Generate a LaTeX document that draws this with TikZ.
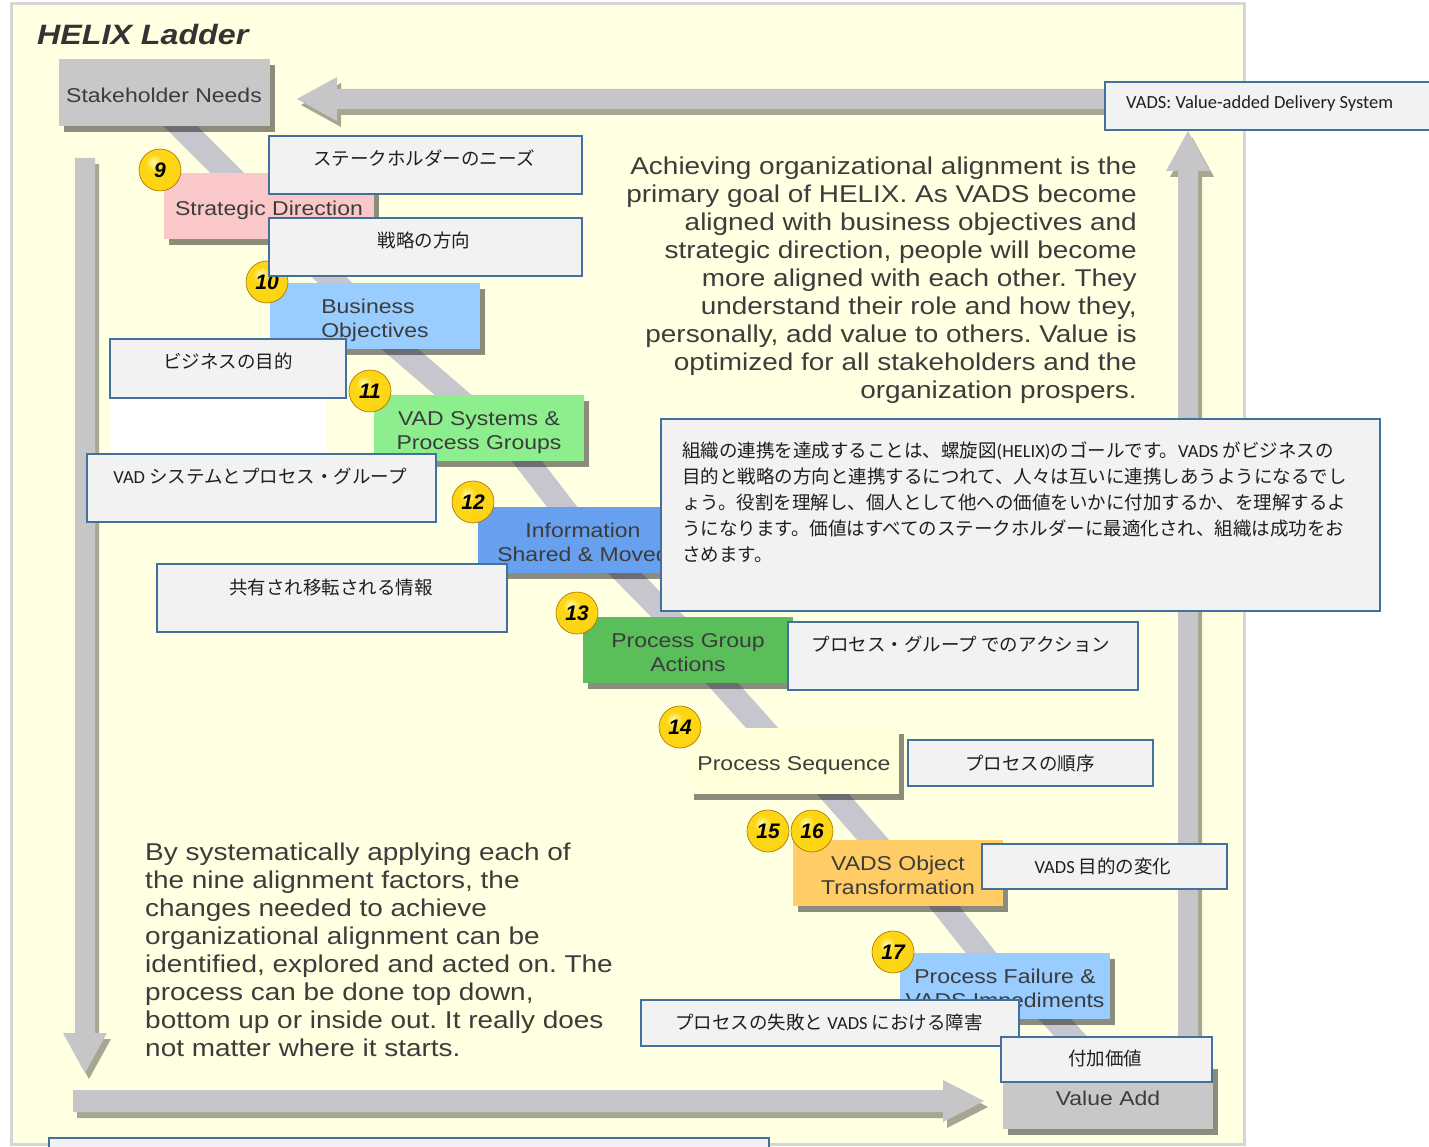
\documentclass[tikz,border=0pt]{standalone}
\usepackage{fontspec}
\setmainfont{Liberation Sans}
\newfontfamily\jpf{Noto Sans CJK JP}
\newfontfamily\latf{Carlito}
\usetikzlibrary{shadows}
\pgfdeclarelayer{back}
\pgfdeclarelayer{mid}
\pgfsetlayers{back,mid,main}
\definecolor{panelbg}{RGB}{255,255,226}
\definecolor{panelbd}{RGB}{214,214,214}
\definecolor{arrowgray}{RGB}{198,198,200}
\definecolor{stripegray}{RGB}{198,198,206}
\definecolor{boxgray}{RGB}{200,200,200}
\definecolor{sdpink}{RGB}{250,200,200}
\definecolor{lblue}{RGB}{153,204,255}
\definecolor{lgreen}{RGB}{140,238,140}
\definecolor{mblue}{RGB}{102,160,238}
\definecolor{mgreen}{RGB}{90,190,90}
\definecolor{cream}{RGB}{255,255,218}
\definecolor{lorange}{RGB}{255,204,102}
\definecolor{jpfill}{RGB}{242,242,242}
\definecolor{jpline}{RGB}{65,113,156}
\definecolor{txtgray}{RGB}{60,60,60}
\definecolor{ballhi}{RGB}{255,250,170}
\definecolor{ballc}{RGB}{252,214,20}
\definecolor{ballmid}{RGB}{240,176,0}
\definecolor{ballrim}{RGB}{170,110,0}
\pgfdeclareradialshading{goldball}{\pgfpoint{-8bp}{10bp}}{color(0bp)=(ballhi); color(10bp)=(ballc); color(28bp)=(ballc); color(42bp)=(ballmid); color(54bp)=(ballrim); color(70bp)=(ballrim)}
\newcommand\stx[1]{\raisebox{-9.5pt}[0pt][0pt]{\scalebox{1.15}[1]{\begin{tabular}{@{}c@{}}#1\end{tabular}}}}
\newcommand\stxl[1]{\raisebox{-9.5pt}[0pt][0pt]{\scalebox{1.15}[1]{\begin{tabular}{@{}l@{}}#1\end{tabular}}}}
\frenchspacing
\begin{document}
\begin{tikzpicture}[x=1pt,y=-1pt,
  ladder/.style={rectangle, minimum width=210pt, minimum height=66pt, inner sep=0pt,
    text=txtgray, font=\fontsize{20}{24}\selectfont,
    drop shadow={shadow xshift=5pt, shadow yshift=-6pt, fill=black, opacity=0.45}},
  ballnode/.style={circle, minimum size=42pt, inner sep=0pt, shade, shading=goldball,
    draw=ballrim, line width=0.6pt, font=\fontsize{21}{21}\selectfont\bfseries\itshape},
  para/.style={inner sep=0pt, text=txtgray, font=\fontsize{24.3}{28}\selectfont, xscale=1.15},
  jpbox/.style={rectangle, draw=jpline, line width=2pt, fill=jpfill, inner sep=0pt, anchor=north west},
  jptxt/.style={inner sep=0pt, text=black!88, font=\jpf\fontsize{18.5}{26}\selectfont},
  bigarrow/.style={fill=arrowgray},
  arrowshadow/.style={fill=black, opacity=0.35},
  stripe/.style={draw=stripegray, line width=24pt, shorten <=-20pt, shorten >=-20pt},
  panel/.style={fill=panelbg, draw=panelbd, line width=3pt}
]
\useasboundingbox (0,0) rectangle (1429,1147);
\clip (0,0) rectangle (1429,1147);
\begin{pgfonlayer}{back}
  \fill[white] (0,0) rectangle (1429,1147);
  \draw[panel] (11,4) rectangle (1244,1144);
  \fill[white] (110,397) rectangle (326,454);
\end{pgfonlayer}

% big loop arrows: shadows
\begin{scope}[shift={(4,6)}]
  \fill[arrowshadow] (1195,89) -- (337,89) -- (337,77) -- (297,99) -- (337,121) -- (337,109) -- (1195,109) -- cycle;
  \fill[arrowshadow] (1178,1080) -- (1178,171) -- (1166,171) -- (1188,131) -- (1210,171) -- (1198,171) -- (1198,1080) -- cycle;
  \fill[arrowshadow] (75,158) -- (95,158) -- (95,1033) -- (107,1033) -- (85,1073) -- (63,1033) -- (75,1033) -- cycle;
  \fill[arrowshadow] (73,1090) -- (943,1090) -- (943,1080) -- (984,1101) -- (943,1122) -- (943,1112) -- (73,1112) -- cycle;
\end{scope}
\fill[bigarrow] (1195,89) -- (337,89) -- (337,77) -- (297,99) -- (337,121) -- (337,109) -- (1195,109) -- cycle;
\fill[bigarrow] (1178,1080) -- (1178,171) -- (1166,171) -- (1188,131) -- (1210,171) -- (1198,171) -- (1198,1080) -- cycle;
\fill[bigarrow] (75,158) -- (95,158) -- (95,1033) -- (107,1033) -- (85,1073) -- (63,1033) -- (75,1033) -- cycle;
\fill[bigarrow] (73,1090) -- (943,1090) -- (943,1080) -- (984,1101) -- (943,1122) -- (943,1112) -- (73,1112) -- cycle;

% title
\node[anchor=base west, inner sep=0pt, font=\fontsize{28}{28}\selectfont\bfseries\itshape, text=black!80, xscale=1.15] (title) at (37,45) {HELIX Ladder};

% ladder boxes
\node[ladder, fill=boxgray, minimum width=211pt, minimum height=67pt] (sn) at (164,93) {\stx{Stakeholder Needs}};
\node[ladder, fill=sdpink] (sd) at (269,206) {\stx{Strategic Direction}};
\node[ladder, fill=lblue] (bo) at (375,316) {\stxl{Business\\Objectives}};
\node[ladder, fill=lgreen] (vad) at (479,428) {\stx{VAD Systems \&\\Process Groups}};
\node[ladder, fill=mblue] (info) at (583,540) {\stx{Information\\Shared \& Moved}};
\node[ladder, fill=mgreen] (pg) at (688,650) {\stx{Process Group\\Actions}};
\node[ladder, fill=cream] (ps) at (794,761) {\stx{Process Sequence}};
\node[ladder, fill=lorange] (vo) at (898,873) {\stx{VADS Object\\Transformation}};
\node[ladder, fill=lblue] (pf) at (1005,986) {\stx{Process Failure \&\\VADS Impediments}};
\node[ladder, fill=boxgray] (va) at (1108,1096) {\stx{Value Add}};

% ladder backbone
\begin{pgfonlayer}{mid}
  \draw[stripe] ([xshift=17pt]sn.south) -- ([xshift=-42pt]sd.north);
  \draw[stripe] ([xshift=21pt]sd.south) -- ([xshift=-40pt]bo.north);
  \draw[stripe] ([xshift=25pt]bo.south) -- ([xshift=-26pt]vad.north);
  \draw[stripe] ([xshift=48pt]vad.south) -- ([xshift=-21pt]info.north);
  \draw[stripe] ([xshift=42pt]info.south) -- ([xshift=-20pt]pg.north);
  \draw[stripe] ([xshift=34pt]pg.south) -- ([xshift=-32pt]ps.north);
  \draw[stripe] ([xshift=39pt]ps.south) -- ([xshift=-25pt]vo.north);
  \draw[stripe] ([xshift=46pt]vo.south) -- ([xshift=-24pt]pf.north);
  \draw[stripe] ([xshift=50pt]pf.south) -- ([xshift=-13pt]va.north);
\end{pgfonlayer}

% numbered balls
\node[ballnode] (n9) at (160,170) {9};
\node[ballnode] (n10) at (267,282) {10};
\node[ballnode] (n11) at (370,391) {11};
\node[ballnode] (n12) at (473,502) {12};
\node[ballnode] (n13) at (577,613) {13};
\node[ballnode] (n14) at (680,727) {14};
\node[ballnode] (n15) at (768,831) {15};
\node[ballnode] (n16) at (812,831) {16};
\node[ballnode] (n17) at (893,952) {17};

% English paragraphs
\node[para, anchor=north east, align=right] (ptop) at (1137,157) {Achieving organizational alignment is the\\
primary goal of HELIX. As VADS become\\
aligned with business objectives and\\
strategic direction, people will become\\
more aligned with each other. They\\
understand their role and how they,\\
personally, add value to others. Value is\\
optimized for all stakeholders and the\\
organization prospers.};
\node[para, anchor=north west, align=left] (pbot) at (145,843) {By systematically applying each of\\
the nine alignment factors, the\\
changes needed to achieve\\
organizational alignment can be\\
identified, explored and acted on. The\\
process can be done top down,\\
bottom up or inside out. It really does\\
not matter where it starts.};

% Japanese annotation boxes
\node[jpbox, minimum width=313pt, minimum height=58pt] (ja) at (268,135) {};
\node[jptxt] (jat) at (424,158) {ステークホルダーのニーズ};
\node[jpbox, minimum width=313pt, minimum height=58pt] (jb) at (268,217) {};
\node[jptxt] (jbt) at (424,240) {戦略の方向};
\node[jpbox, minimum width=236pt, minimum height=59pt] (jc) at (109,338) {};
\node[jptxt] (jct) at (228,361) {ビジネスの目的};
\node[jpbox, minimum width=349pt, minimum height=68pt] (jd) at (86,453) {};
\node[jptxt] (jdt) at (260,476) {{\latf VAD }システムとプロセス・グループ};
\node[jpbox, minimum width=350pt, minimum height=68pt] (je) at (156,563) {};
\node[jptxt] (jet) at (331,587) {共有され移転される情報};
\node[jpbox, minimum width=719pt, minimum height=192pt] (jf) at (660,418) {};
\node[jptxt, anchor=north west, align=left] (jft) at (682,441) {組織の連携を達成することは、螺旋図{\latf (HELIX)}のゴールです。{\latf VADS }がビジネスの\\
目的と戦略の方向と連携するにつれて、人々は互いに連携しあうようになるでし\\
ょう。役割を理解し、個人として他への価値をいかに付加するか、を理解するよ\\
うになります。価値はすべてのステークホルダーに最適化され、組織は成功をお\\
さめます。};
\node[jpbox, minimum width=350pt, minimum height=68pt] (jg) at (787,621) {};
\node[jptxt] (jgt) at (961,644) {プロセス・グループ でのアクション};
\node[jpbox, minimum width=245pt, minimum height=46pt] (jh) at (907,739) {};
\node[jptxt] (jht) at (1030,763) {プロセスの順序};
\node[jpbox, minimum width=245pt, minimum height=45pt] (ji) at (981,843) {};
\node[jptxt] (jit) at (1103,866) {{\latf VADS }目的の変化};
\node[jpbox, minimum width=378pt, minimum height=46pt] (jj) at (640,999) {};
\node[jptxt] (jjt) at (829,1022) {プロセスの失敗と{\latf\ VADS }における障害};
\node[jpbox, minimum width=211pt, minimum height=45pt] (jk) at (1000,1036) {};
\node[jptxt] (jkt) at (1105,1058) {付加価値};
\node[jpbox, minimum width=330pt, minimum height=48pt] (jl) at (1104,81) {};
\node[jptxt, anchor=west, font=\latf\fontsize{18.5}{22}\selectfont] (jlt) at (1126,104) {VADS: Value-added Delivery System};
\node[jpbox, minimum width=720pt, minimum height=40pt] (jm) at (48,1137) {};
\end{tikzpicture}
\end{document}
